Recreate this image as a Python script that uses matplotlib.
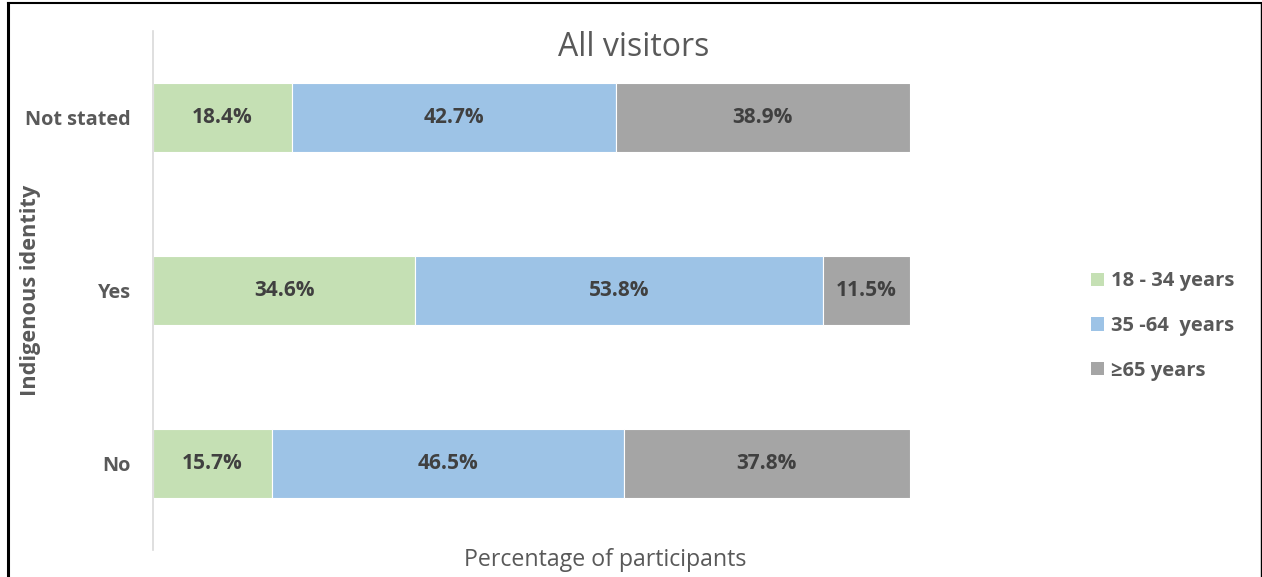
import matplotlib.pyplot as plt
import numpy as np
from matplotlib.lines import Line2D
from matplotlib.patches import Patch

plt.rcParams['font.family'] = ['Open Sans', 'DejaVu Sans']

# Data
categories = ['No', 'Yes', 'Not stated']
age_groups = ['18 - 34 years', '35 -64  years', '\u226565 years']
age_18_34 = [15.7, 34.6, 18.4]
age_35_64 = [46.5, 53.8, 42.7]
age_65_plus = [37.8, 11.5, 38.9]

colors = ['#C5E0B4', '#9DC3E6', '#A5A5A5']
label_color = '#404040'
tick_color = '#595959'

W, H = 1262, 577
fig = plt.figure(figsize=(W / 100, H / 100), dpi=100)
ax = fig.add_axes([153 / W, 1 - 550 / H, (910 - 153) / W, (550 - 31) / H])

series = np.array([age_18_34, age_35_64, age_65_plus])
totals = series.sum(axis=0)
shares = series / totals * 100  # 100% stacked

y = np.arange(len(categories))
left = np.zeros(len(categories))
for i, name in enumerate(age_groups):
    bars = ax.barh(y, shares[i], left=left, height=0.4, color=colors[i],
                   edgecolor='white', linewidth=0.8, label=name)
    for bar, val in zip(bars, series[i]):
        ax.text(bar.get_x() + bar.get_width() / 2, bar.get_y() + bar.get_height() / 2,
                f'{val:.1f}%', ha='center', va='center', fontsize=15,
                fontweight='bold', color=label_color)
    left += shares[i]

ax.set_xlim(0, 100)
ax.set_ylim(-0.5, 2.5)
ax.set_yticks(y)
ax.set_yticklabels(categories, fontsize=14.3, fontweight='bold', color=tick_color)
ax.tick_params(axis='y', length=0, pad=16)
ax.set_xticks([])
for side in ['top', 'right', 'bottom']:
    ax.spines[side].set_visible(False)
ax.spines['left'].set_color('#D9D9D9')
ax.spines['left'].set_linewidth(1.2)

# Titles and labels
fig.text(634 / W, 1 - 48 / H, 'All visitors', ha='center', va='center',
         fontsize=23, color=tick_color)
fig.text(605 / W, 1 - 560 / H, 'Percentage of participants', ha='center', va='center',
         fontsize=16.7, color=tick_color)
fig.text(31 / W, 1 - 290 / H, 'Indigenous identity', ha='center', va='center',
         rotation=90, fontsize=15.7, fontweight='bold', color=tick_color)

# Legend
handles = [Patch(facecolor=c, edgecolor='none') for c in colors]
fig.legend(handles, age_groups, loc='center left', bbox_to_anchor=(1073 / W, 1 - 326 / H),
           frameon=False, labelcolor=tick_color,
           prop={'weight': 'bold', 'size': 14.5},
           handlelength=0.65, handleheight=0.65, handletextpad=0.35, labelspacing=1.22)

# Outer frame (left, top, right)
fig.add_artist(Line2D([8 / W, 8 / W], [0, 1 - 2.5 / H], color='black', lw=2.2))
fig.add_artist(Line2D([8 / W, 1260.5 / W], [1 - 2.5 / H, 1 - 2.5 / H], color='black', lw=1.5))
fig.add_artist(Line2D([1260.5 / W, 1260.5 / W], [0, 1 - 2.5 / H], color='black', lw=1.0))

fig.savefig('out.png', dpi=100)
